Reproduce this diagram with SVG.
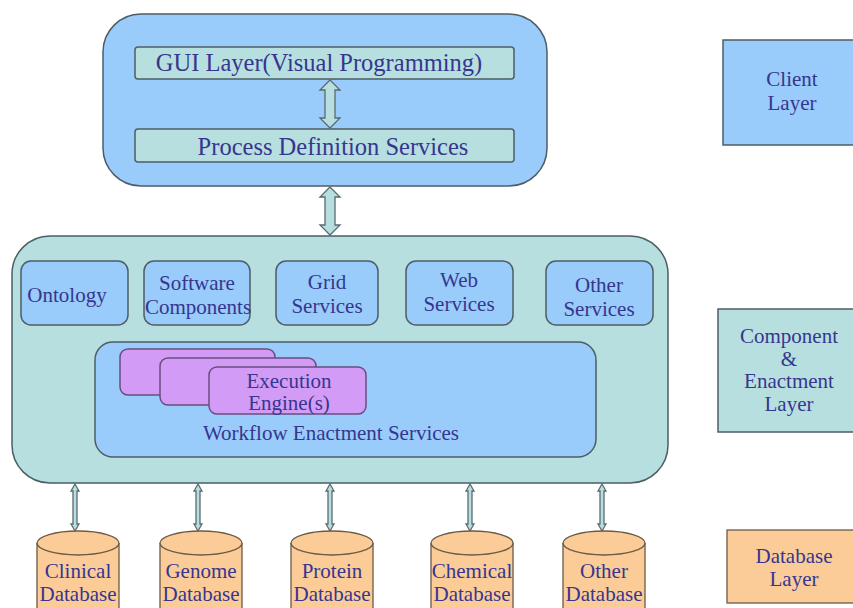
<svg xmlns="http://www.w3.org/2000/svg" width="853" height="608" viewBox="0 0 853 608">
  <style>
    text { font-family: "Liberation Serif", "Times New Roman", serif; fill: #36368e; text-anchor: middle; }
    .big { font-size: 24.5px; }
    .mid { font-size: 21px; }
    .blue { fill: #99cbfb; stroke: #4e5e66; stroke-width: 1.5; }
    .teal { fill: #b7dfe0; stroke: #4e5e66; stroke-width: 1.5; }
    .purple { fill: #d29cf6; stroke: #6a4d80; stroke-width: 1.5; }
    .orange { fill: #fccc98; stroke: #6b5a45; stroke-width: 1.3; }
    .arrow { fill: #b7dfe0; stroke: #5a6a70; stroke-width: 1.3; }
  </style>
  <defs>
    <!-- thick double-headed block arrow, 48 px long -->
    <path id="blockArrow" d="M0,0 L10,10 L5,10 L5,38 L10,38 L0,48 L-10,38 L-5,38 L-5,10 L-10,10 Z"/>
    <!-- slim double-headed arrow to the databases -->
    <path id="slimArrow" d="M0,0 L4,7 L2,7 L2,40 L4,40 L0,47 L-4,40 L-2,40 L-2,7 L-4,7 Z"/>
    <!-- database cylinder, origin at the centre of its top ellipse -->
    <g id="cylinder">
      <path d="M-41,0 L-41,80 A41,12 0 0 0 41,80 L41,0" class="orange"/>
      <ellipse cx="0" cy="0" rx="41" ry="12" class="orange"/>
    </g>
  </defs>

  <rect x="0" y="0" width="853" height="608" fill="#ffffff"/>

  <!-- Client layer -->
  <g id="client-layer">
    <rect x="103" y="14" width="444" height="172" rx="38" ry="38" class="blue"/>
  </g>
  <g id="gui-layer">
    <rect x="135" y="47" width="379" height="32" rx="3" class="teal"/>
    <text x="319" y="71" class="big">GUI Layer(Visual Programming)</text>
  </g>
  <g id="process-definition">
    <rect x="135" y="129" width="379" height="33" rx="3" class="teal"/>
    <text x="333" y="155" class="big">Process Definition Services</text>
  </g>

  <!-- Component & enactment layer -->
  <g id="component-layer">
    <rect x="12" y="236" width="656" height="247" rx="38" ry="38" class="teal"/>
  </g>
  <g id="ontology">
    <rect x="21" y="261" width="107" height="64" rx="10" class="blue"/>
    <text x="67" y="302" class="mid">Ontology</text>
  </g>
  <g id="software-components">
    <rect x="144" y="261" width="106" height="64" rx="10" class="blue"/>
    <text x="197" y="290" class="mid">Software</text>
    <text x="198" y="314" class="mid">Components</text>
  </g>
  <g id="grid-services">
    <rect x="276" y="261" width="102" height="64" rx="10" class="blue"/>
    <text x="327" y="289" class="mid">Grid</text>
    <text x="327" y="313" class="mid">Services</text>
  </g>
  <g id="web-services">
    <rect x="406" y="261" width="107" height="64" rx="10" class="blue"/>
    <text x="459" y="287" class="mid">Web</text>
    <text x="459" y="311" class="mid">Services</text>
  </g>
  <g id="other-services">
    <rect x="546" y="261" width="107" height="64" rx="10" class="blue"/>
    <text x="599" y="292" class="mid">Other</text>
    <text x="599" y="316" class="mid">Services</text>
  </g>
  <g id="workflow-enactment">
    <rect x="95" y="342" width="501" height="115" rx="18" class="blue"/>
    <text x="331" y="440" class="mid">Workflow Enactment Services</text>
  </g>
  <g id="execution-engines">
    <rect x="120" y="349" width="155" height="46" rx="8" class="purple"/>
    <rect x="160" y="358" width="156" height="47" rx="8" class="purple"/>
    <rect x="209" y="367" width="157" height="47" rx="8" class="purple"/>
    <text x="289" y="388" class="mid">Execution</text>
    <text x="289" y="410" class="mid">Engine(s)</text>
  </g>

  <!-- Connectors -->
  <g id="connectors">
    <use href="#blockArrow" x="330" y="80" class="arrow"/>
    <use href="#blockArrow" x="330" y="187" class="arrow"/>
    <use href="#slimArrow" x="75" y="484" class="arrow"/>
    <use href="#slimArrow" x="198" y="484" class="arrow"/>
    <use href="#slimArrow" x="330" y="484" class="arrow"/>
    <use href="#slimArrow" x="470" y="484" class="arrow"/>
    <use href="#slimArrow" x="602" y="484" class="arrow"/>
  </g>

  <!-- Databases -->
  <g id="clinical-db">
    <use href="#cylinder" x="78" y="543"/>
    <text x="78" y="578" class="mid">Clinical</text>
    <text x="78" y="601" class="mid">Database</text>
  </g>
  <g id="genome-db">
    <use href="#cylinder" x="201" y="543"/>
    <text x="201" y="578" class="mid">Genome</text>
    <text x="201" y="601" class="mid">Database</text>
  </g>
  <g id="protein-db">
    <use href="#cylinder" x="332" y="543"/>
    <text x="332" y="578" class="mid">Protein</text>
    <text x="332" y="601" class="mid">Database</text>
  </g>
  <g id="chemical-db">
    <use href="#cylinder" x="472" y="543"/>
    <text x="472" y="578" class="mid">Chemical</text>
    <text x="472" y="601" class="mid">Database</text>
  </g>
  <g id="other-db">
    <use href="#cylinder" x="604" y="543"/>
    <text x="604" y="578" class="mid">Other</text>
    <text x="604" y="601" class="mid">Database</text>
  </g>

  <!-- Layer legend -->
  <g id="legend-client">
    <rect x="723" y="40" width="135" height="105" class="blue"/>
    <text x="792" y="86" class="mid">Client</text>
    <text x="792" y="110" class="mid">Layer</text>
  </g>
  <g id="legend-component">
    <rect x="718" y="309" width="140" height="123" class="teal"/>
    <text x="789" y="343" class="mid">Component</text>
    <text x="789" y="366" class="mid">&amp;</text>
    <text x="789" y="388" class="mid">Enactment</text>
    <text x="789" y="411" class="mid">Layer</text>
  </g>
  <g id="legend-database">
    <rect x="727" y="530" width="131" height="73" class="orange"/>
    <text x="794" y="563" class="mid">Database</text>
    <text x="794" y="586" class="mid">Layer</text>
  </g>
</svg>
